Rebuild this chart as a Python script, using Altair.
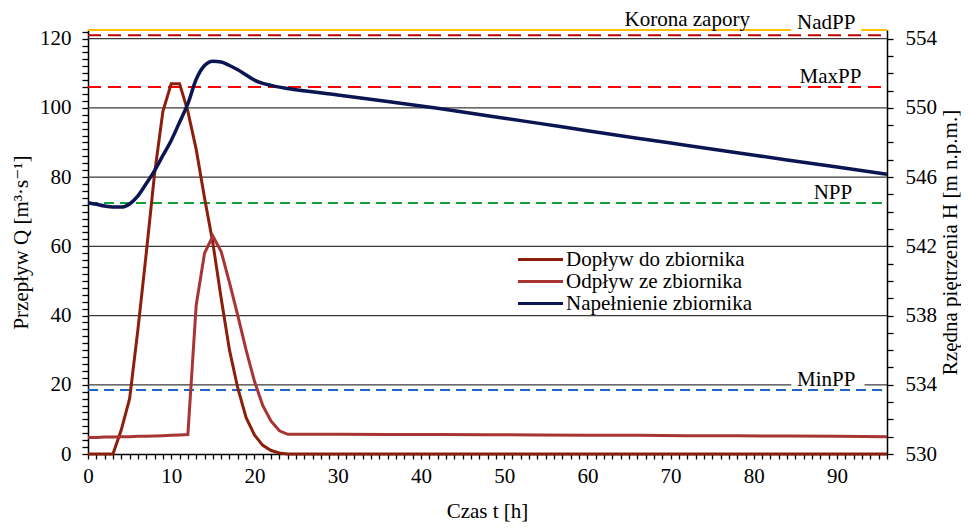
import altair as alt
import pandas as pd

FONT = "Times New Roman, Liberation Serif, DejaVu Serif, serif"
FS = 21

# ---------------- data ----------------
series_names = ["Dopływ do zbiornika", "Odpływ ze zbiornika", "Napełnienie zbiornika"]
series_colors = ["#8C1F0C", "#A83434", "#0B1552"]

t_hours = [0, 1, 2, 3, 4, 5, 6, 7, 8, 9, 10, 11, 12, 13, 14, 15, 16, 17, 18, 19, 20, 21, 22, 23, 24,
           30, 36, 42, 48, 54, 60, 66, 72, 78, 84, 90, 96]

inflow = [0, 0, 0, 0, 7, 16, 36, 58, 81, 99, 107, 107, 99, 88, 74, 61, 45, 30, 19, 10.5, 5.5, 2.5, 1, 0.3, 0,
          0, 0, 0, 0, 0, 0, 0, 0, 0, 0, 0, 0]

outflow = [4.8, 4.8, 4.9, 4.9, 5.0, 5.0, 5.1, 5.1, 5.2, 5.3, 5.4, 5.5, 5.6, 43, 58, 63, 58.5, 49.5, 40, 30, 21,
           14, 9.5, 6.7, 5.7,
           5.7, 5.65, 5.6, 5.55, 5.5, 5.45, 5.4, 5.3, 5.25, 5.2, 5.1, 5.0]

level = [544.52, 544.43, 544.33, 544.27, 544.27, 544.45, 544.92, 545.63, 546.38, 547.25, 548.12, 549.17,
         550.24, 551.65, 552.45, 552.70, 552.65, 552.45, 552.20, 551.90, 551.60, 551.42, 551.30, 551.20, 551.12,
         550.75, 550.37, 549.98, 549.55, 549.12, 548.68, 548.25, 547.83, 547.41, 546.99, 546.58, 546.16]

grid_q = [20, 40, 60, 80, 100, 120]

ref_names = ["Korona zapory", "NadPP", "MaxPP", "NPP", "MinPP"]
ref_levels = [554.5, 554.2, 551.2, 544.5, 533.7]
ref_colors = ["#FFC000", "#C00000", "#FF0000", "#0FA03C", "#1F63C8"]
ref_dash = [[1, 0], [13, 7], [13, 7], [10, 6], [10, 6]]
label_t = [72, 88.7, 89.2, 89.5, 88.7]
label_h = [555.05, 554.9, 551.8, 545.1, 534.27]

box_t0 = [84.5, 84.5]
box_t1 = [92.9, 93.3]
box_h0 = [554.38, 533.81]
box_h1 = [555.5, 534.75]

T_MAX = 96
Q_DOM = [0, 122.5]
H_DOM = [530, 554.5]

# ---------------- frames ----------------
flow_df = pd.DataFrame({
    "t": t_hours * 2,
    "q": inflow + outflow,
    "series": [series_names[0]] * len(t_hours) + [series_names[1]] * len(t_hours),
})
level_df = pd.DataFrame({"t": t_hours, "h": level, "series": [series_names[2]] * len(t_hours)})
grid_df = pd.DataFrame({"q": grid_q})
lab_df = pd.DataFrame({"name": ref_names, "t": label_t, "h": label_h})
box_df = pd.DataFrame({"t0": box_t0, "t1": box_t1, "h0": box_h0, "h1": box_h1})

# ---------------- scales / axes ----------------
x_scale = alt.Scale(domain=[0, T_MAX], nice=False, zero=False)
q_scale = alt.Scale(domain=Q_DOM, nice=False, zero=False)
h_scale = alt.Scale(domain=H_DOM, nice=False, zero=False)

common_axis = dict(
    tickColor="black", tickWidth=1.3, domainColor="black", domainWidth=1.5,
    labelFont=FONT, labelFontSize=FS, labelColor="black", labelOverlap=False, labelFlush=False,
    titleFont=FONT, titleFontSize=FS, titleFontWeight="normal", titleColor="black", grid=False,
    titleAlign="center", titleBaseline="middle",
)

x_axis = alt.Axis(values=list(range(0, T_MAX + 1)),
                  labelExpr="datum.value % 10 === 0 ? datum.label : ''",
                  tickSize=5, labelPadding=6, title="Czas t [h]", titleX=399, titleY=57, **common_axis)

q_axis = alt.Axis(values=list(range(0, 123, 2)),
                  labelExpr="datum.value % 20 === 0 ? datum.label : ''",
                  tickSize=6, labelPadding=11, title="Przepływ Q [m³·s⁻¹]",
                  titleX=-67, titleY=212, titleAngle=270,
                  orient="left", **common_axis)

h_axis = alt.Axis(values=list(range(530, 555)),
                  labelExpr="(datum.value - 530) % 4 === 0 ? datum.label : ''",
                  tickSize=6, labelPadding=12, title="Rzędna piętrzenia H [m n.p.m.]",
                  titleX=63, titleY=212, titleAngle=270, orient="right", **common_axis)


def X(field):
    return alt.X(field, type="quantitative", scale=x_scale, axis=x_axis)


color_enc = alt.Color(
    "series:N",
    scale=alt.Scale(domain=series_names, range=series_colors),
    legend=alt.Legend(orient="none", legendX=442, legendY=219, title=None,
                      symbolType="M-2.5,0H2.5", symbolSize=324, symbolStrokeWidth=3,
                      symbolFillColor="transparent",
                      labelFont=FONT, labelFontSize=FS, labelColor="black", labelLimit=400,
                      labelOffset=15, rowPadding=0, padding=0),
)

# ---------------- layers ----------------
grid = alt.Chart(grid_df).mark_rule(color="#3a3a3a", strokeWidth=1.2).encode(
    x=alt.datum(0, scale=x_scale, axis=x_axis),
    x2=alt.datum(T_MAX),
    y=alt.Y("q:Q", scale=q_scale, axis=q_axis),
)

ref_layers = []
for i, (nm, lv) in enumerate(zip(ref_names, ref_levels)):
    d = pd.DataFrame({"h": [lv]})
    ref_layers.append(
        alt.Chart(d).mark_rule(color=ref_colors[i], strokeWidth=2, strokeDash=ref_dash[i]).encode(
            x=alt.datum(0, scale=x_scale, axis=x_axis),
            x2=alt.datum(T_MAX),
            y=alt.Y("h:Q", scale=h_scale, axis=h_axis),
        )
    )

boxes = alt.Chart(box_df).mark_rect(color="white").encode(
    x=X("t0"), x2="t1",
    y=alt.Y("h0:Q", scale=h_scale, axis=h_axis), y2="h1",
)

labels = alt.Chart(lab_df).mark_text(font=FONT, fontSize=FS, color="black",
                                     align="center", baseline="middle").encode(
    x=X("t"),
    y=alt.Y("h:Q", scale=h_scale, axis=h_axis),
    text="name:N",
)

refs = alt.layer(*ref_layers, boxes, labels)

flows = alt.Chart(flow_df).mark_line(strokeWidth=3).encode(
    x=X("t"),
    y=alt.Y("q:Q", scale=q_scale, axis=None),
    color=color_enc,
    detail="series:N",
)

levels = alt.Chart(level_df).mark_line(strokeWidth=3.5, interpolate="monotone").encode(
    x=X("t"),
    y=alt.Y("h:Q", scale=h_scale, axis=None),
    color=color_enc,
)

chart = alt.layer(grid, refs, flows, levels).resolve_scale(y="independent").properties(
    width=799, height=424,
    autosize=alt.AutoSizeParams(type="none"),
    padding={"left": 80, "top": 22, "right": 74, "bottom": 72},
    background="white",
).configure(font=FONT).configure_view(stroke=None)

chart.save("out.html", embed_options={"renderer": "svg", "actions": False})
